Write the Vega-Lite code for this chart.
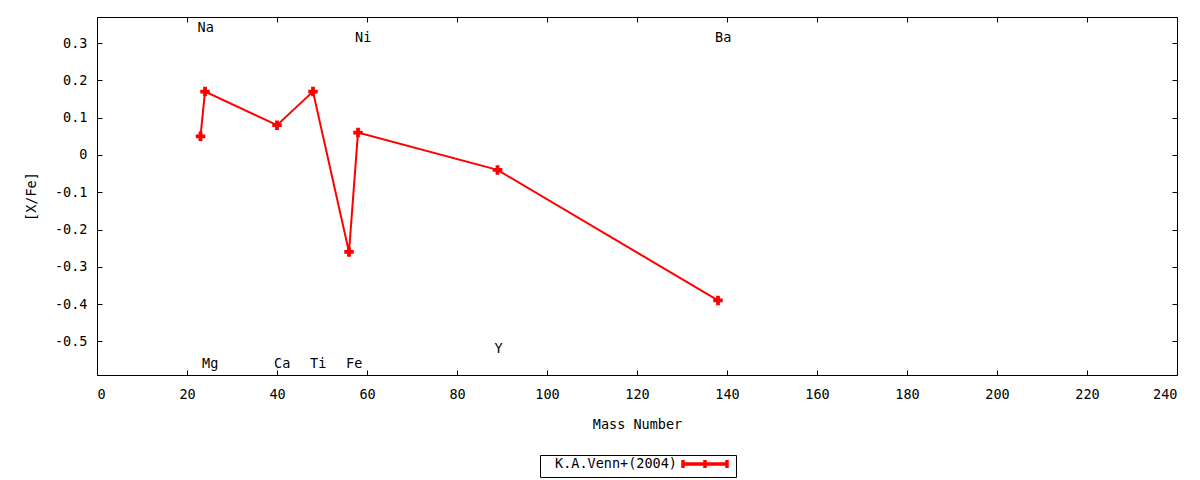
{
  "$schema": "https://vega.github.io/schema/vega-lite/v6.json",
  "autosize": "none",
  "width": 1080,
  "height": 358,
  "padding": {"left": 97, "top": 17, "right": 23, "bottom": 105},
  "background": "white",
  "datasets": {
    "abund": [
      {"element": "Na", "mass": 23, "xfe": 0.05, "series": "K.A.Venn+(2004)"},
      {"element": "Mg", "mass": 24, "xfe": 0.17, "series": "K.A.Venn+(2004)"},
      {"element": "Ca", "mass": 40, "xfe": 0.08, "series": "K.A.Venn+(2004)"},
      {"element": "Ti", "mass": 48, "xfe": 0.17, "series": "K.A.Venn+(2004)"},
      {"element": "Fe", "mass": 56, "xfe": -0.26, "series": "K.A.Venn+(2004)"},
      {"element": "Ni", "mass": 58, "xfe": 0.06, "series": "K.A.Venn+(2004)"},
      {"element": "Y", "mass": 89, "xfe": -0.04, "series": "K.A.Venn+(2004)"},
      {"element": "Ba", "mass": 138, "xfe": -0.39, "series": "K.A.Venn+(2004)"}
    ],
    "labels": [
      {"element": "Na", "mass": 23, "pos": 0.34},
      {"element": "Mg", "mass": 24, "pos": -0.56},
      {"element": "Ca", "mass": 40, "pos": -0.56},
      {"element": "Ti", "mass": 48, "pos": -0.56},
      {"element": "Fe", "mass": 56, "pos": -0.56},
      {"element": "Ni", "mass": 58, "pos": 0.315},
      {"element": "Y", "mass": 89, "pos": -0.52},
      {"element": "Ba", "mass": 138, "pos": 0.315}
    ]
  },
  "layer": [
    {
      "data": {"name": "abund"},
      "mark": {"type": "line", "strokeWidth": 2},
      "encoding": {
        "x": {
          "field": "mass", "type": "quantitative", "title": "Mass Number",
          "scale": {"domain": [0, 240], "nice": false, "zero": false},
          "axis": {"orient": "bottom", "values": [0, 20, 40, 60, 80, 100, 120, 140, 160, 180, 200, 220, 240], "labelPadding": 17, "titlePadding": 17}
        },
        "y": {
          "field": "xfe", "type": "quantitative", "title": "[X/Fe]",
          "scale": {"domain": [-0.59, 0.37], "nice": false, "zero": false},
          "axis": {"orient": "left", "values": [-0.5, -0.4, -0.3, -0.2, -0.1, 0, 0.1, 0.2, 0.3], "labelExpr": "'' + datum.value", "labelPadding": 15, "titlePadding": 16}
        },
        "color": {
          "field": "series", "type": "nominal",
          "scale": {"range": ["#ff0000"]},
          "legend": {
            "title": null,
            "orient": "none",
            "legendX": 443,
            "legendY": 438,
            "symbolType": "M-4.4,0H4.4M-4.4,-0.8V0.8M0,-0.8V0.8M4.4,-0.8V0.8",
            "symbolSize": 100,
            "symbolStrokeWidth": 3.5,
            "symbolFillColor": "transparent",
            "symbolOffset": 156,
            "labelOffset": -157,
            "strokeColor": "black",
            "padding": 2,
            "labelFont": "DejaVu Sans Mono",
            "labelFontSize": 13.5,
            "labelColor": "black",
            "labelLimit": 300
          }
        }
      }
    },
    {
      "data": {"name": "abund"},
      "mark": {"type": "point", "shape": "cross", "filled": true, "size": 90, "color": "#ff0000", "opacity": 1},
      "encoding": {
        "x": {"field": "mass", "type": "quantitative", "axis": null},
        "y": {"field": "xfe", "type": "quantitative", "axis": null}
      }
    },
    {
      "data": {"name": "labels"},
      "mark": {"type": "text", "align": "left", "baseline": "middle", "dx": -3, "font": "DejaVu Sans Mono", "fontSize": 13.5, "color": "black"},
      "encoding": {
        "x": {"field": "mass", "type": "quantitative", "axis": null},
        "y": {"field": "pos", "type": "quantitative", "axis": null},
        "text": {"field": "element"}
      }
    },
    {
      "data": {"name": "abund"},
      "mark": {"type": "point", "opacity": 0},
      "encoding": {
        "x": {
          "field": "mass", "type": "quantitative",
          "axis": {"orient": "top", "labels": false, "title": null, "values": [0, 20, 40, 60, 80, 100, 120, 140, 160, 180, 200, 220, 240]}
        },
        "y": {
          "field": "xfe", "type": "quantitative",
          "axis": {"orient": "right", "labels": false, "title": null, "values": [-0.5, -0.4, -0.3, -0.2, -0.1, 0, 0.1, 0.2, 0.3]}
        }
      }
    }
  ],
  "resolve": {"axis": {"x": "independent", "y": "independent"}},
  "config": {
    "view": {"stroke": "black", "strokeWidth": 1},
    "axis": {
      "domain": false,
      "grid": false,
      "tickSize": -5,
      "tickColor": "black",
      "tickWidth": 1,
      "labelFont": "DejaVu Sans Mono",
      "labelFontSize": 13.5,
      "labelColor": "black",
      "titleFont": "DejaVu Sans Mono",
      "titleFontSize": 13.5,
      "titleFontWeight": "normal",
      "titleColor": "black"
    }
  }
}
